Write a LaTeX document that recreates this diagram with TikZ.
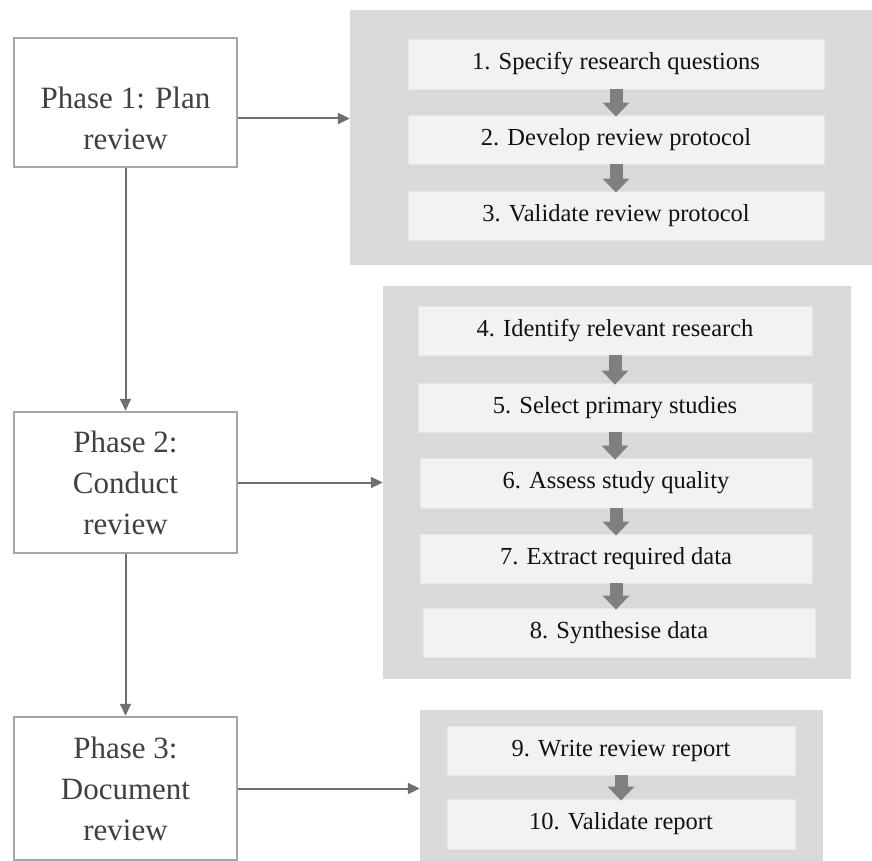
\documentclass[tikz,border=0pt]{standalone}
\usepackage{fontspec}
\setmainfont{Liberation Serif}
\usetikzlibrary{arrows.meta}

\definecolor{panelgray}{HTML}{D9D9D9}
\definecolor{stepfill}{HTML}{F2F2F2}
\definecolor{stepedge}{HTML}{E6E6E6}
\definecolor{blockgray}{HTML}{7F7F7F}
\definecolor{conngray}{HTML}{6F6F6F}
\definecolor{phaseedge}{HTML}{A6A6A6}
\definecolor{phasetext}{HTML}{404040}
\definecolor{steptext}{HTML}{111111}

\tikzset{
  panel/.style={fill=panelgray, draw=none, inner sep=0pt},
  stepbox/.style={fill=stepfill, draw=stepedge, line width=0.8pt, inner sep=0pt,
    text=steptext, font=\fontsize{24.5}{30}\selectfont},
  phasebox/.style={draw=phaseedge, fill=white, line width=2.5pt, inner sep=0pt,
    minimum width=223pt, text=phasetext, align=center,
    font=\fontsize{31}{41}\selectfont},
  phaselabel/.style={inner sep=0pt, text=phasetext, align=center,
    font=\fontsize{31}{41}\selectfont},
  conn/.style={draw=conngray, line width=2pt,
    -{Triangle[width=11pt,length=12pt]}},
  blockarrow/.style={draw=blockgray, line width=13pt, shorten >=-2pt,
    -{Triangle[width=26pt,length=14pt]}},
}

\begin{document}
\begin{tikzpicture}[x=1pt, y=-1pt]
\useasboundingbox (0,0) rectangle (872,861);

% grey panels holding the steps of each phase
\node[panel, minimum width=522pt, minimum height=255pt] (pan1) at (611,137.5) {};
\node[panel, minimum width=468pt, minimum height=393pt] (pan2) at (617,482.5) {};
\node[panel, minimum width=403pt, minimum height=160pt] (pan3) at (621.5,790) {};

% steps of phase 1
\node[stepbox, minimum width=416pt, minimum height=50pt] (s1) at (616,64) {1. Specify research questions};
\node[stepbox, minimum width=416pt, minimum height=49pt] (s2) at (616,139.5) {2. Develop review protocol};
\node[stepbox, minimum width=416pt, minimum height=49pt] (s3) at (616,215.5) {3. Validate review protocol};

% steps of phase 2
\node[stepbox, minimum width=394pt, minimum height=49pt] (s4) at (615,330.5) {4. Identify relevant research};
\node[stepbox, minimum width=394pt, minimum height=49pt] (s5) at (615,407.5) {5. Select primary studies};
\node[stepbox, minimum width=392pt, minimum height=50pt] (s6) at (616,483) {6. Assess study quality};
\node[stepbox, minimum width=392pt, minimum height=49pt] (s7) at (616,558.5) {7. Extract required data};
\node[stepbox, minimum width=392pt, minimum height=49pt] (s8) at (619,632.5) {8. Synthesise data};

% steps of phase 3
\node[stepbox, minimum width=348pt, minimum height=49pt] (s9) at (621,750.5) {9. Write review report};
\node[stepbox, minimum width=348pt, minimum height=50pt] (s10) at (621,824) {10. Validate report};

% block arrows between consecutive steps
\foreach \a/\b in {s1/s2, s2/s3, s4/s5, s5/s6, s6/s7, s7/s8, s9/s10}
  \draw[blockarrow] (\a.south) -- (\a.south |- \b.north);

% phase boxes
\node[phasebox, minimum height=129pt] (p1) at (125.5,102.5) {};
\node[phaselabel] (p1t) at (125.5,118.5) {Phase 1: Plan\\review};
\node[phasebox, minimum height=141pt] (p2) at (125.5,482.5) {Phase 2:\\Conduct\\review};
\node[phasebox, minimum height=143pt] (p3) at (125.5,788.5) {Phase 3:\\Document\\review};

% connectors
\draw[conn] (p1.south) -- (p2.north);
\draw[conn] (p2.south) -- (p3.north);
\draw[conn] (p1.east |- p1t) -- (pan1.west |- p1t);
\draw[conn] (p2.east) -- (pan2.west |- p2.east);
\draw[conn] (p3.east) -- (pan3.west |- p3.east);
\end{tikzpicture}
\end{document}
